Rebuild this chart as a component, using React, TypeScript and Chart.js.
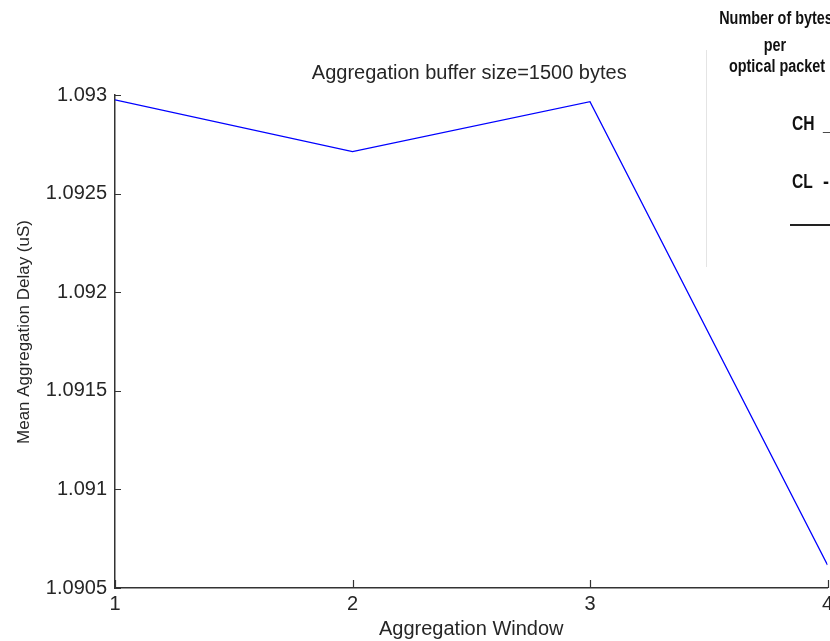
import React, { useEffect, useRef } from "react";
import { Chart, registerables } from "chart.js";

Chart.register(...registerables);

// ---- data ----
const windows = [1, 2, 3, 4];
const meanDelay = [1.092975, 1.092713, 1.092966, 1.090617];
const xTicks = [1, 2, 3, 4];
const yTicks = [1.0905, 1.091, 1.0915, 1.092, 1.0925, 1.093];
const chartTitle = "Aggregation buffer size=1500 bytes";
const xTitle = "Aggregation Window";
const yTitle = "Mean Aggregation Delay (uS)";
const legendHeader = ["Number of bytes", "per", "optical packet"];
const legendLabels = ["CH", "CL"];
const legendMarks = ["_", "-"];

const TEXT = "#262626";
const AXIS = "#333333";
const SANS = '"Liberation Sans", Arial, Helvetica, sans-serif';

function condensedText(ctx: any, text: string, x: number, y: number, align: string, sx: number) {
  ctx.save();
  ctx.translate(x, y);
  ctx.scale(sx, 1);
  ctx.textAlign = align;
  ctx.fillText(text, 0, 0);
  ctx.restore();
}

const extrasPlugin = {
  id: "extras",
  afterDraw(chart: any) {
    const { ctx, chartArea, scales } = chart;
    const xs = scales.x;
    const ys = scales.y;
    ctx.save();
    // inward tick marks (MATLAB style)
    ctx.strokeStyle = AXIS;
    ctx.lineWidth = 1.2;
    ctx.beginPath();
    ys.ticks.forEach((t: any) => {
      const py = Math.round(ys.getPixelForValue(t.value)) + 0.5;
      ctx.moveTo(chartArea.left, py);
      ctx.lineTo(chartArea.left + 6, py);
    });
    xs.ticks.forEach((t: any) => {
      const px = Math.round(xs.getPixelForValue(t.value)) + 0.5;
      ctx.moveTo(px, chartArea.bottom);
      ctx.lineTo(px, chartArea.bottom - 8);
    });
    ctx.stroke();

    // chart title
    ctx.fillStyle = TEXT;
    ctx.font = `20px ${SANS}`;
    ctx.textAlign = "center";
    ctx.textBaseline = "alphabetic";
    ctx.fillText(chartTitle, (chartArea.left + chartArea.right) / 2 - 2, 79);

    // y axis title
    ctx.save();
    ctx.translate(24, 332);
    ctx.rotate(-Math.PI / 2);
    ctx.font = `17px ${SANS}`;
    ctx.textAlign = "center";
    ctx.textBaseline = "middle";
    ctx.fillText(yTitle, 0, 0);
    ctx.restore();

    // legend-like annotation at the right edge (condensed bold)
    ctx.fillStyle = "#111";
    ctx.textBaseline = "alphabetic";
    ctx.font = `bold 18px ${SANS}`;
    condensedText(ctx, legendHeader[0], 776, 24, "center", 0.8);
    condensedText(ctx, legendHeader[1], 775, 51, "center", 0.8);
    condensedText(ctx, legendHeader[2], 777, 72, "center", 0.8);
    ctx.font = `bold 20px ${SANS}`;
    condensedText(ctx, legendLabels[0], 792, 130, "left", 0.78);
    condensedText(ctx, legendLabels[1], 792, 188, "left", 0.78);
    condensedText(ctx, legendMarks[0], 823, 130, "left", 0.9);
    condensedText(ctx, legendMarks[1], 823, 188, "left", 0.9);
    ctx.strokeStyle = "#222";
    ctx.lineWidth = 2;
    ctx.beginPath();
    ctx.moveTo(790, 225);
    ctx.lineTo(830, 225);
    ctx.stroke();
    ctx.strokeStyle = "#e4e4e4";
    ctx.lineWidth = 1;
    ctx.beginPath();
    ctx.moveTo(706.5, 50);
    ctx.lineTo(706.5, 267);
    ctx.stroke();
    ctx.restore();
  },
};

export default function App() {
  const ref = useRef<HTMLCanvasElement | null>(null);

  useEffect(() => {
    if (!ref.current) return;
    const chart = new Chart(ref.current, {
      type: "line",
      data: {
        datasets: [
          {
            data: windows.map((w, i) => ({ x: w, y: meanDelay[i] })),
            borderColor: "#0000ff",
            borderWidth: 1.3,
            pointRadius: 0,
            tension: 0,
            fill: false,
          },
        ],
      },
      options: {
        responsive: false,
        animation: false,
        events: [],
        layout: { padding: { left: 0, right: 2.5, top: 95, bottom: 0 } },
        plugins: {
          legend: { display: false },
          title: { display: false },
          tooltip: { enabled: false },
        },
        scales: {
          x: {
            type: "linear",
            min: 1,
            max: 4,
            afterBuildTicks: (s: any) => {
              s.ticks = xTicks.map((v) => ({ value: v }));
            },
            afterFit: (s: any) => {
              s.height = 53;
              s.paddingLeft = 0;
              s.paddingRight = 0;
            },
            grid: { display: false, drawTicks: false },
            border: { display: true, color: AXIS, width: 1.5 },
            ticks: {
              color: TEXT,
              font: { family: SANS, size: 20 },
              padding: 4,
              maxRotation: 0,
              autoSkip: false,
              callback: (v: any) => String(v),
            },
            title: {
              display: true,
              text: xTitle,
              color: TEXT,
              font: { family: SANS, size: 20 },
              padding: { top: 0, bottom: 0 },
            },
          },
          y: {
            type: "linear",
            min: 1.0905,
            max: 1.093,
            afterBuildTicks: (s: any) => {
              s.ticks = yTicks.map((v) => ({ value: v }));
            },
            afterFit: (s: any) => {
              s.width = 115;
              s.paddingTop = 0;
              s.paddingBottom = 0;
            },
            grid: { display: false, drawTicks: false },
            border: { display: true, color: AXIS, width: 1.5 },
            ticks: {
              color: TEXT,
              font: { family: SANS, size: 20 },
              padding: 8,
              autoSkip: false,
              callback: (v: any) => String(Number(Number(v).toFixed(4))),
            },
            title: { display: false },
          },
        },
      },
      plugins: [extrasPlugin],
    } as any);
    return () => chart.destroy();
  }, []);

  return (
    <div
      style={{
        position: "fixed",
        left: 0,
        top: 0,
        width: 830,
        height: 641,
        overflow: "hidden",
        background: "#ffffff",
      }}
    >
      <canvas ref={ref} width={830} height={641} style={{ display: "block" }} />
    </div>
  );
}
